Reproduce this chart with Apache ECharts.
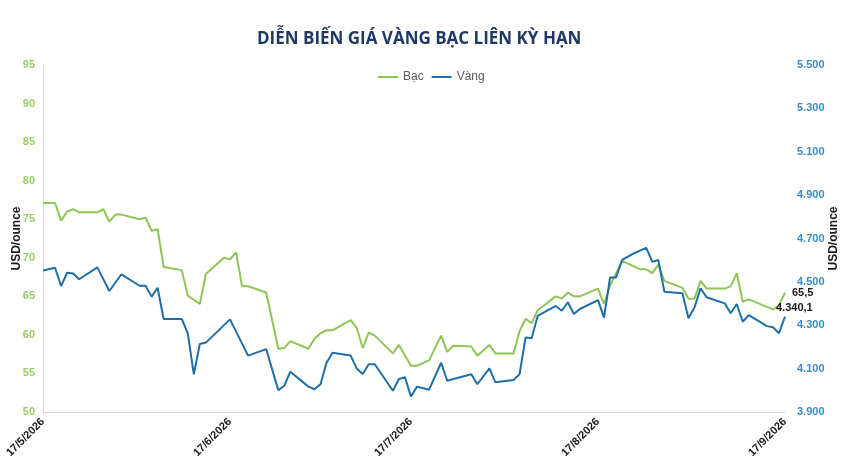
<!DOCTYPE html>
<html>
<head>
<meta charset="utf-8">
<script src="https://cdn.jsdelivr.net/npm/echarts@6/dist/echarts.min.js"></script>
<style>
html,body{margin:0;padding:0;background:#fff;}
#chart{width:850px;height:470px;}
</style>
</head>
<body>
<div id="chart"></div>
<script>
// Daily categories from 17/5/2026 to 17/9/2026 (124 days)
const startDate = [2026, 5, 17];
const dayCount = 124;
const tickLabels = ["17/5/2026", "17/6/2026", "17/7/2026", "17/8/2026", "17/9/2026"];

// Bạc (USD/ounce, left axis); null = no data that day
const silver = [
  77.1, null, 77.1, 74.8, 76.0, 76.3, 75.9, null, null, 75.9,
  76.3, 74.7, 75.6, 75.6, null, null, 75.0, 75.2, 73.5, 73.7,
  68.8, null, null, 68.4, 65.1, null, 64.0, 67.9, null, null,
  70.0, 69.8, 70.7, 66.3, 66.3, null, null, 65.5, null, 58.2,
  58.3, 59.2, null, null, 58.2, 59.5, 60.2, 60.6, 60.6, null,
  null, 61.9, 60.9, 58.3, 60.3, 59.9, null, null, 57.6, 58.7,
  null, 56.0, 56.0, null, 56.7, 58.3, 59.9, 57.8, 58.6, null,
  null, 58.5, 57.3, null, 58.7, 57.6, null, null, 57.6, 60.5,
  62.1, 61.5, 63.2, null, null, 65.0, 64.7, 65.5, 65.0, 65.0,
  null, null, 66.0, 64.0, 66.4, null, 69.6, null, null, 68.5,
  68.5, 68.0, 69.1, 67.0, null, null, 66.1, 64.7, 64.7, 67.0,
  66.0, null, null, 66.0, 66.3, 68.0, 64.3, 64.6, null, null,
  null, 63.3, 63.8, 65.5
];

// Vàng (USD/ounce, right axis)
const gold = [
  4552, null, 4565, 4481, 4542, 4539, 4512, null, null, 4567,
  null, 4458, null, 4535, null, null, 4482, 4482, 4432, 4473,
  4329, null, null, 4329, 4263, 4074, 4214, 4220, null, null,
  null, 4327, null, null, 4160, null, null, 4190, null, 4001,
  4021, 4086, null, null, 4017, 4005, 4028, 4127, 4173, null,
  null, 4160, 4101, 4075, 4120, 4120, null, null, 3998, 4052,
  4060, 3971, 4017, null, 4003, null, 4127, 4044, null, null,
  null, 4074, 4028, null, 4101, 4037, null, null, 4048, 4074,
  4244, 4240, 4343, null, null, 4389, 4367, 4406, 4352, 4375,
  null, null, 4416, 4335, 4520, 4520, 4601, null, 4632, null,
  4657, 4593, 4601, 4455, null, null, 4447, 4332, 4383, 4470,
  4429, null, null, 4401, 4355, 4398, 4316, 4347, null, null,
  4296, 4291, 4263, 4340.1
];

const silverName = "Bạc";
const goldName = "Vàng";

const categories = [];
for (let i = 0; i < dayCount; i++) {
  const d = new Date(Date.UTC(startDate[0], startDate[1] - 1, startDate[2] + i));
  categories.push(d.getUTCDate() + "/" + (d.getUTCMonth() + 1) + "/" + d.getUTCFullYear());
}

function fmtThousands(v) {
  const parts = String(v).split(".");
  parts[0] = parts[0].replace(/\B(?=(\d{3})+(?!\d))/g, ".");
  return parts.join(",");
}

function lastValue(p) {
  return Array.isArray(p.value) ? p.value[p.value.length - 1] : p.value;
}

const GREEN = "#8fc457";
const BLUE = "#1f6fa6";

const chart = echarts.init(document.getElementById("chart"), null, { renderer: "canvas" });
chart.setOption({
  animation: false,
  backgroundColor: "#ffffff",
  textStyle: { fontFamily: "Liberation Sans, Arial, sans-serif" },
  title: {
    text: "DIỄN BIẾN GIÁ VÀNG BẠC LIÊN KỲ HẠN",
    left: 252,
    top: 26,
    textStyle: { fontFamily: "Open Sans", fontWeight: "bold", fontSize: 17, color: "#1f3864" }
  },
  legend: {
    top: 66,
    left: 373,
    icon: "rect",
    itemWidth: 20,
    itemHeight: 2,
    itemGap: 8,
    textStyle: { fontSize: 12, color: "#595959", fontFamily: "Liberation Sans" },
    data: [silverName, goldName]
  },
  grid: { left: 43, right: 65, top: 65, bottom: 58, containLabel: false, outerBoundsMode: "none" },
  xAxis: {
    type: "category",
    data: categories,
    boundaryGap: false,
    axisLine: { show: true, lineStyle: { color: "#d9d9d9", width: 1 } },
    axisTick: { show: false },
    splitLine: { show: false },
    axisLabel: {
      rotate: 45,
      margin: 8,
      fontSize: 11,
      fontWeight: "bold",
      color: "#1a1a1a",
      interval: (idx, val) => tickLabels.indexOf(val) >= 0,
      formatter: (val) => val
    }
  },
  yAxis: [
    {
      type: "value",
      min: 50, max: 95, interval: 5,
      name: "USD/ounce",
      nameLocation: "middle",
      nameGap: 20,
      nameRotate: 90,
      nameMoveOverlap: false,
      nameTextStyle: { fontSize: 12, fontWeight: "bold", color: "#1a1a1a" },
      axisLine: { show: true, lineStyle: { color: "#d9d9d9" } },
      axisTick: { show: false },
      splitLine: { show: false },
      axisLabel: { color: "#9bcb6b", fontSize: 11, fontWeight: "bold", margin: 8 }
    },
    {
      type: "value",
      min: 3900, max: 5500, interval: 200,
      name: "USD/ounce",
      nameLocation: "middle",
      nameGap: 43,
      nameRotate: 90,
      nameMoveOverlap: false,
      nameTextStyle: { fontSize: 12, fontWeight: "bold", color: "#1a1a1a" },
      axisLine: { show: false },
      axisTick: { show: false },
      splitLine: { show: false },
      axisLabel: { color: "#3a8cc3", fontSize: 11, fontWeight: "bold", margin: 12, formatter: fmtThousands }
    }
  ],
  series: [
    {
      name: silverName,
      type: "line",
      yAxisIndex: 0,
      symbol: "none",
      connectNulls: true,
      lineStyle: { color: GREEN, width: 2 },
      itemStyle: { color: GREEN },
      endLabel: {
        show: true, distance: 7, offset: [0, 0],
        fontSize: 11, fontWeight: "bold", color: "#1a1a1a",
        formatter: (p) => String(lastValue(p)).replace(".", ",")
      },
      data: silver
    },
    {
      name: goldName,
      type: "line",
      yAxisIndex: 1,
      symbol: "none",
      connectNulls: true,
      lineStyle: { color: BLUE, width: 2 },
      itemStyle: { color: BLUE },
      endLabel: {
        show: true, distance: 0, offset: [-9, -9],
        fontSize: 11, fontWeight: "bold", color: "#1a1a1a",
        formatter: (p) => fmtThousands(lastValue(p))
      },
      data: gold
    }
  ]
});
</script>
</body>
</html>
